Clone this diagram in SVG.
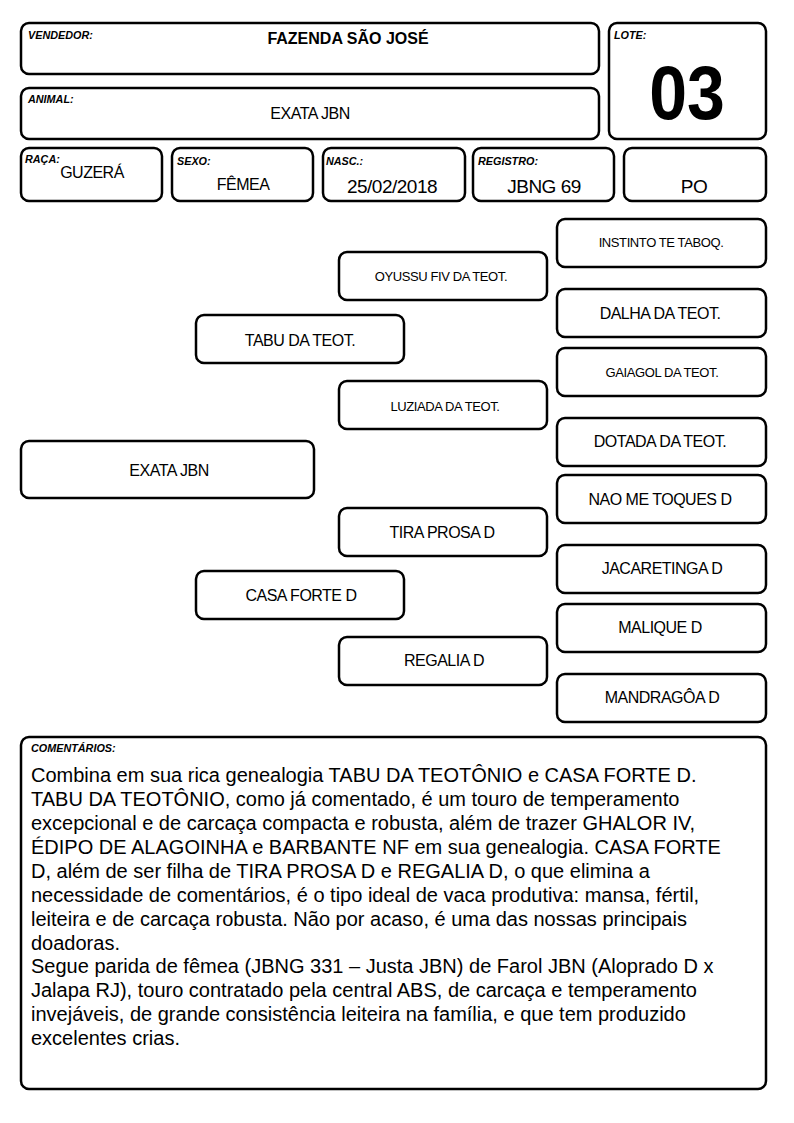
<svg xmlns="http://www.w3.org/2000/svg" width="794" height="1123" viewBox="0 0 794 1123">
<style>
.b{fill:#fff;stroke:#000;stroke-width:2.5}
.lbl{font-family:"Liberation Sans",Arial,sans-serif;font-weight:bold;font-style:italic;font-size:10.8px;fill:#000}
.v{font-family:"Liberation Sans",Arial,sans-serif;fill:#000;text-anchor:middle;letter-spacing:-0.5px}
.p16{font-size:16px}
.p13{font-size:13px;letter-spacing:-0.4px}
.c{font-family:"Liberation Sans",Arial,sans-serif;font-size:20px;fill:#000}
</style>
<rect width="794" height="1123" fill="#fff"/>
<g id="vendedor"><rect class="b" x="21" y="23" width="578" height="51" rx="8"/><text class="lbl" x="28" y="39">VENDEDOR:</text><text x="348" y="44" font-family="Liberation Sans,Arial,sans-serif" font-weight="bold" font-size="16" text-anchor="middle">FAZENDA SÃO JOSÉ</text></g>
<g id="animal"><rect class="b" x="21" y="88" width="578" height="51" rx="8"/><text class="lbl" x="28" y="103">ANIMAL:</text><text class="v p16" x="310" y="119">EXATA JBN</text></g>
<g id="lote"><rect class="b" x="609" y="23" width="157" height="116" rx="8"/><text class="lbl" x="614" y="39">LOTE:</text><text transform="translate(687,119) scale(1,1.12)" x="0" y="0" font-family="Liberation Sans,Arial,sans-serif" font-weight="bold" font-size="68" text-anchor="middle">03</text></g>
<g id="raca"><rect class="b" x="21" y="148" width="141" height="53" rx="8"/><text class="lbl" x="25" y="163">RAÇA:</text><text class="v" x="92" y="178" font-size="16">GUZERÁ</text></g>
<g id="sexo"><rect class="b" x="172" y="148" width="141" height="53" rx="8"/><text class="lbl" x="177" y="165">SEXO:</text><text class="v" x="243" y="190" font-size="16">FÊMEA</text></g>
<g id="nasc"><rect class="b" x="323" y="148" width="142" height="53" rx="8"/><text class="lbl" x="326" y="165">NASC.:</text><text class="v" x="392" y="193" font-size="19">25/02/2018</text></g>
<g id="registro"><rect class="b" x="473" y="148" width="141" height="53" rx="8"/><text class="lbl" x="478" y="165">REGISTRO:</text><text class="v" x="544" y="193" font-size="19">JBNG 69</text></g>
<g id="po"><rect class="b" x="624" y="148" width="142" height="53" rx="8"/><text class="v" x="694" y="193" font-size="19">PO</text></g>
<g id="connectors"></g>
<g id="n-exata"><rect class="b" x="21" y="441" width="293" height="57" rx="8"/><text class="v p16" x="169" y="476">EXATA JBN</text></g>
<g id="n-tabu"><rect class="b" x="196" y="315" width="208" height="48" rx="8"/><text class="v p16" x="300" y="346">TABU DA TEOT.</text></g>
<g id="n-casaforte"><rect class="b" x="196" y="571" width="208" height="48" rx="8"/><text class="v p16" x="301" y="601">CASA FORTE D</text></g>
<g id="n-oyussu"><rect class="b" x="339" y="252" width="208" height="48" rx="8"/><text class="v p13" x="441" y="281">OYUSSU FIV DA TEOT.</text></g>
<g id="n-luziada"><rect class="b" x="339" y="381" width="208" height="48" rx="8"/><text class="v p13" x="445" y="411">LUZIADA DA TEOT.</text></g>
<g id="n-tiraprosa"><rect class="b" x="339" y="508" width="208" height="48" rx="8"/><text class="v p16" x="442" y="538">TIRA PROSA D</text></g>
<g id="n-regalia"><rect class="b" x="339" y="637" width="208" height="48" rx="8"/><text class="v p16" x="444" y="666">REGALIA D</text></g>
<g id="n-instinto"><rect class="b" x="557" y="219" width="209" height="48" rx="8"/><text class="v p13" x="661" y="247">INSTINTO TE TABOQ.</text></g>
<g id="n-dalha"><rect class="b" x="557" y="289" width="209" height="48" rx="8"/><text class="v p16" x="660" y="319">DALHA DA TEOT.</text></g>
<g id="n-gaiagol"><rect class="b" x="557" y="348" width="209" height="48" rx="8"/><text class="v p13" x="662" y="377">GAIAGOL DA TEOT.</text></g>
<g id="n-dotada"><rect class="b" x="557" y="418" width="209" height="48" rx="8"/><text class="v p16" x="660" y="447">DOTADA DA TEOT.</text></g>
<g id="n-naometoques"><rect class="b" x="557" y="475" width="209" height="48" rx="8"/><text class="v p16" x="660" y="505">NAO ME TOQUES D</text></g>
<g id="n-jacaretinga"><rect class="b" x="557" y="545" width="209" height="48" rx="8"/><text class="v p16" x="662" y="574">JACARETINGA D</text></g>
<g id="n-malique"><rect class="b" x="557" y="604" width="209" height="48" rx="8"/><text class="v p16" x="660" y="633">MALIQUE D</text></g>
<g id="n-mandragoa"><rect class="b" x="557" y="674" width="209" height="48" rx="8"/><text class="v p16" x="662" y="703">MANDRAGÔA D</text></g>
<g id="comentarios"><rect class="b" x="21" y="737" width="745" height="352" rx="8"/><text class="lbl" x="31" y="752">COMENTÁRIOS:</text>
<text class="c"><tspan x="31" y="782">Combina em sua rica genealogia TABU DA TEOTÔNIO e CASA FORTE D.</tspan><tspan x="31" y="806">TABU DA TEOTÔNIO, como já comentado, é um touro de temperamento</tspan><tspan x="31" y="830">excepcional e de carcaça compacta e robusta, além de trazer GHALOR IV,</tspan><tspan x="31" y="854">ÉDIPO DE ALAGOINHA e BARBANTE NF em sua genealogia. CASA FORTE</tspan><tspan x="31" y="878">D, além de ser filha de TIRA PROSA D e REGALIA D, o que elimina a</tspan><tspan x="31" y="902">necessidade de comentários, é o tipo ideal de vaca produtiva: mansa, fértil,</tspan><tspan x="31" y="926">leiteira e de carcaça robusta. Não por acaso, é uma das nossas principais</tspan><tspan x="31" y="950">doadoras.</tspan><tspan x="31" y="973">Segue parida de fêmea (JBNG 331 – Justa JBN) de Farol JBN (Aloprado D x</tspan><tspan x="31" y="997">Jalapa RJ), touro contratado pela central ABS, de carcaça e temperamento</tspan><tspan x="31" y="1021">invejáveis, de grande consistência leiteira na família, e que tem produzido</tspan><tspan x="31" y="1045">excelentes crias.</tspan></text></g>
</svg>
